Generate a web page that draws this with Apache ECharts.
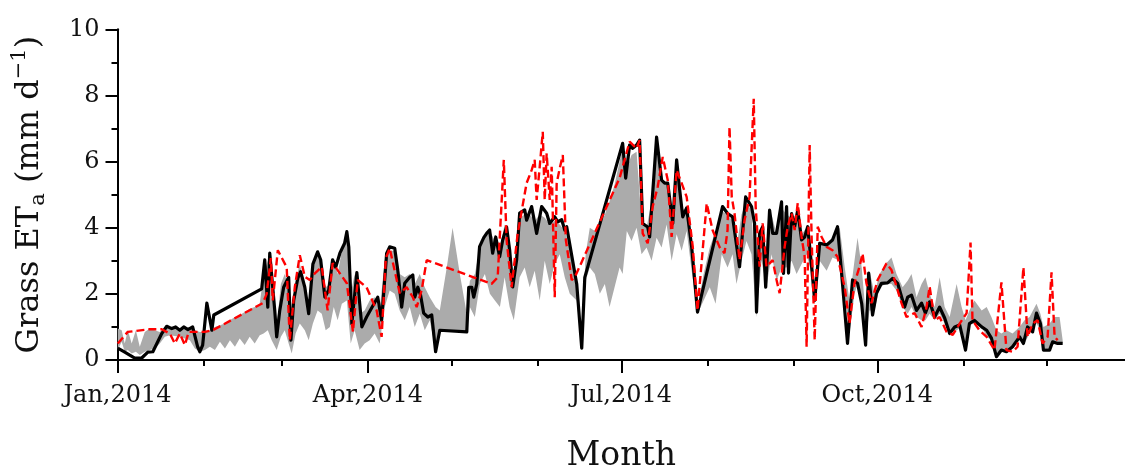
<!DOCTYPE html>
<html><head><meta charset="utf-8">
<script src="https://cdn.jsdelivr.net/npm/echarts@6/dist/echarts.min.js"></script>
<style>html,body{margin:0;padding:0;background:#fff}#c{width:1125px;height:468px}</style>
</head><body><div id="c"></div>
<script>
// x = day of year 2014 (0 = 1 Jan), y = ET (mm/d)
const blackLine = [[0.1,0.36],[2.6,0.24],[6.2,0.06],[8.7,0.06],[10.9,0.24],[12.7,0.25],[15.9,0.8],[17.7,1.02],[19.5,0.95],[20.9,1.0],[22.4,0.9],[23.8,1.0],[25.3,0.92],[27.0,1.0],[28.8,0.4],[29.6,0.25],[30.6,0.45],[32.1,1.72],[33.9,0.9],[34.6,1.36],[51.8,2.15],[52.9,3.03],[54.0,1.6],[54.7,3.23],[56.5,1.5],[57.2,0.7],[58.3,1.5],[59.7,2.2],[61.5,2.5],[62.3,0.6],[63.3,1.8],[64.8,2.48],[65.8,2.67],[67.3,2.2],[68.7,1.4],[70.2,2.9],[71.9,3.27],[73.0,3.03],[74.5,1.9],[75.9,2.12],[77.3,3.03],[78.4,2.8],[79.9,3.23],[81.6,3.53],[82.4,3.88],[83.1,3.42],[84.2,1.1],[86.0,2.64],[87.8,1.0],[89.5,1.3],[91.3,1.57],[93.5,1.9],[94.9,1.2],[96.7,3.22],[97.8,3.42],[99.6,3.38],[100.7,2.72],[102.1,1.6],[103.2,2.32],[105.0,2.5],[106.1,2.57],[106.8,1.9],[107.9,2.2],[108.9,1.96],[110.0,1.42],[111.5,1.3],[112.9,1.36],[114.3,0.25],[115.8,0.9],[125.5,0.85],[126.2,2.2],[127.3,2.2],[128.0,1.9],[129.1,2.3],[130.1,3.43],[131.6,3.7],[132.7,3.84],[133.7,3.93],[134.8,3.23],[135.9,3.72],[137.3,3.12],[138.4,3.63],[139.8,4.02],[140.9,3.33],[142.0,2.21],[143.4,3.02],[144.5,4.44],[146.3,4.54],[147.0,4.23],[148.8,4.64],[150.6,3.83],[152.4,4.64],[154.2,4.44],[155.3,4.13],[157.1,4.33],[158.2,4.18],[159.6,4.24],[160.7,3.93],[161.4,4.03],[165.0,2.3],[166.8,0.36],[167.9,2.5],[181.5,6.55],[182.6,5.5],[184.0,6.5],[185.1,6.4],[186.5,6.5],[187.6,6.65],[188.7,4.13],[190.5,4.02],[191.2,3.72],[193.7,6.74],[195.5,5.44],[196.6,5.35],[197.7,5.35],[199.5,4.13],[200.9,6.05],[202.0,5.14],[203.1,4.33],[204.5,4.6],[206.3,3.42],[208.4,1.45],[217.4,4.64],[219.2,4.43],[221.0,4.33],[223.5,2.82],[225.7,4.93],[227.8,4.64],[228.9,4.13],[229.6,1.45],[230.7,3.83],[231.8,4.03],[232.9,2.2],[234.3,4.53],[235.4,3.83],[236.8,3.83],[238.6,4.78],[239.3,2.62],[240.4,4.64],[241.1,2.63],[242.2,4.43],[243.3,4.03],[244.4,4.53],[245.8,3.63],[246.9,3.72],[248.0,4.03],[249.4,2.82],[250.5,1.8],[252.3,3.53],[254.8,3.48],[256.9,3.63],[258.7,4.03],[260.5,2.3],[262.3,0.5],[264.1,2.42],[265.9,2.32],[267.4,1.7],[268.8,0.45],[269.9,2.63],[271.3,1.36],[272.7,2.02],[274.5,2.32],[276.7,2.33],[278.5,2.47],[280.3,2.32],[282.8,1.6],[283.9,1.9],[285.3,1.96],[287.1,1.5],[288.9,1.72],[290.3,1.42],[291.8,1.76],[293.6,1.3],[295.4,1.6],[297.2,1.27],[299.0,0.8],[300.8,1.0],[302.6,1.06],[304.7,0.3],[306.1,1.1],[307.9,1.2],[310.5,1.0],[312.3,0.9],[314.0,0.66],[315.8,0.1],[317.6,0.3],[319.4,0.25],[321.6,0.4],[324.1,0.7],[325.5,0.5],[327.0,1.0],[328.8,0.85],[330.2,1.42],[331.6,1.1],[332.7,0.3],[334.9,0.3],[336.0,0.55],[337.8,0.5],[339.6,0.5]];

const redLine = [[0.1,0.5],[3.7,0.85],[11.6,0.93],[15.9,0.93],[18.8,0.8],[20.6,0.5],[22.4,0.8],[24.2,0.45],[25.6,0.85],[31.4,0.85],[34.2,0.9],[52.2,1.72],[53.6,2.0],[55.1,3.08],[55.8,1.8],[57.6,3.32],[60.8,2.8],[61.9,0.6],[63.7,2.2],[65.5,3.17],[67.3,2.52],[69.1,2.42],[70.9,2.62],[73.4,2.82],[75.5,1.5],[77.3,2.93],[79.9,2.62],[82.4,2.32],[84.6,0.85],[86.3,2.42],[89.5,2.2],[93.1,1.5],[94.9,0.7],[96.4,3.08],[97.8,3.38],[101.4,2.02],[103.9,2.2],[106.1,1.9],[107.5,1.6],[109.3,2.12],[111.1,3.02],[134.4,2.3],[136.6,2.5],[138.8,6.05],[139.8,3.63],[141.6,2.2],[143.8,3.83],[147.0,5.35],[148.8,5.74],[149.9,6.05],[150.6,4.84],[151.7,5.84],[152.8,6.9],[153.5,4.84],[154.2,6.25],[155.3,4.84],[156.0,5.84],[157.1,1.9],[157.8,5.35],[158.9,5.8],[160.0,6.2],[161.1,3.63],[163.2,2.42],[164.3,2.5],[180.4,5.5],[184.0,6.6],[186.5,6.4],[187.6,6.65],[188.7,3.83],[190.5,3.53],[192.3,4.64],[194.1,5.24],[195.9,6.14],[197.7,5.44],[199.1,3.72],[200.9,5.74],[202.7,5.35],[204.5,4.93],[206.7,3.42],[208.4,1.5],[211.7,4.74],[213.8,3.93],[216.3,3.42],[218.1,3.23],[219.2,3.93],[219.9,7.05],[220.7,4.93],[221.7,4.43],[223.5,3.02],[225.3,4.23],[227.1,4.93],[228.6,7.9],[229.3,4.64],[230.7,2.82],[231.8,4.13],[233.2,2.82],[235.4,3.02],[236.8,2.42],[237.9,2.02],[239.7,3.42],[240.8,4.03],[242.2,4.43],[243.3,3.93],[244.4,4.74],[245.8,3.72],[246.9,3.12],[247.6,0.4],[248.7,6.5],[249.4,3.72],[250.5,0.6],[251.6,4.03],[253.0,3.72],[254.8,3.42],[256.9,3.32],[258.7,3.12],[261.3,2.2],[263.0,1.1],[264.8,2.32],[266.6,2.82],[267.7,3.22],[269.1,2.32],[270.9,1.72],[273.1,2.42],[276.3,2.92],[278.1,2.72],[279.2,2.42],[281.7,1.72],[283.5,1.3],[286.4,1.42],[288.9,1.0],[290.7,1.6],[291.8,2.22],[293.6,1.2],[295.4,1.3],[297.9,0.85],[300.1,0.76],[302.6,1.1],[305.1,1.42],[306.5,3.55],[307.2,1.2],[309.7,0.9],[312.3,0.7],[315.1,0.3],[317.6,2.35],[319.4,0.3],[321.6,0.25],[323.4,0.4],[325.5,2.8],[327.0,0.7],[328.8,1.1],[330.6,1.2],[332.4,0.5],[334.2,0.7],[335.6,2.65],[336.7,0.7],[337.8,0.6]];

// [day, lower, upper] of the grey envelope
const greyBand = [[0.1,0.3,0.95],[1.5,0.55,0.9],[2.6,0.25,0.5],[3.7,0.3,0.9],[5.1,0.2,0.5],[6.6,0.25,0.9],[8.0,0.15,0.4],[9.8,0.25,0.85],[11.6,0.3,0.95],[13.4,0.35,0.9],[15.2,0.5,0.85],[17.0,0.7,1.0],[18.8,0.75,1.0],[22.4,0.7,0.95],[26.0,0.6,1.0],[27.8,0.35,0.9],[29.6,0.25,0.85],[31.4,0.3,0.85],[33.2,0.4,0.9],[35.0,0.3,1.0],[36.8,0.55,1.05],[38.6,0.35,1.1],[40.4,0.6,1.2],[42.2,0.4,1.3],[43.9,0.65,1.35],[45.7,0.45,1.45],[47.5,0.7,1.55],[49.3,0.5,1.6],[51.1,0.75,1.7],[52.5,0.8,2.6],[54.0,0.9,3.0],[55.4,0.6,2.4],[57.2,0.3,1.0],[58.7,0.7,2.3],[60.1,0.9,2.6],[61.5,0.5,2.2],[62.6,0.2,0.9],[64.0,0.8,2.4],[65.5,1.1,2.9],[67.3,0.9,2.3],[68.7,0.6,1.6],[70.2,1.1,2.9],[71.9,1.5,3.2],[73.4,1.4,2.9],[74.8,0.9,2.2],[76.3,1.0,2.3],[77.7,1.6,3.0],[79.1,1.2,2.6],[80.6,1.7,3.3],[82.4,1.8,3.7],[83.8,0.5,2.0],[85.2,0.9,2.6],[87.0,0.3,1.4],[88.8,0.5,1.5],[90.6,0.6,1.8],[92.4,0.8,1.9],[94.2,0.5,1.5],[96.0,1.6,3.0],[97.8,2.1,3.3],[99.6,2.0,3.3],[101.4,1.5,2.6],[103.2,1.2,2.5],[105.0,1.6,2.6],[106.8,1.0,2.3],[108.6,1.4,2.6],[110.4,0.9,2.2],[112.2,1.2,1.9],[114.3,0.3,1.6],[115.8,0.85,1.5],[118.3,0.85,2.8],[120.4,0.85,4.0],[123.0,0.85,2.6],[125.5,0.85,1.4],[126.6,1.6,2.4],[128.4,1.3,2.6],[130.2,2.3,3.4],[132.0,2.6,3.7],[133.8,2.0,3.9],[135.6,1.8,3.6],[137.4,1.6,3.4],[139.1,2.5,4.1],[140.9,1.6,3.2],[142.4,1.2,2.6],[144.5,2.5,4.3],[146.3,2.8,4.4],[148.1,2.2,4.4],[149.9,2.7,4.2],[151.7,1.8,4.4],[153.5,3.0,4.3],[155.3,2.3,4.1],[157.1,2.9,4.2],[158.9,3.2,4.1],[160.7,2.5,3.9],[162.5,2.0,3.4],[165.0,1.8,2.4],[166.8,0.4,0.5],[168.2,2.4,3.2],[169.7,2.8,4.0],[171.5,2.6,3.9],[173.3,2.0,4.1],[175.1,2.3,4.4],[176.8,1.6,4.8],[178.6,2.2,5.3],[180.4,2.8,6.0],[181.5,2.6,6.4],[183.0,3.9,5.8],[184.7,3.6,6.2],[186.5,4.0,6.3],[188.3,3.2,4.2],[190.1,3.4,4.0],[191.9,3.0,4.8],[193.7,3.7,6.3],[195.5,3.4,5.4],[197.3,4.1,5.3],[199.1,3.0,4.3],[200.9,3.8,5.6],[202.7,3.3,4.6],[204.5,3.9,4.5],[206.3,2.7,3.4],[208.4,1.4,1.6],[210.6,1.8,2.6],[212.8,2.2,3.4],[214.9,1.7,3.9],[217.1,3.2,4.5],[219.2,2.8,4.4],[221.0,3.2,4.2],[222.4,2.3,3.4],[224.2,3.0,4.4],[226.0,3.6,4.8],[227.8,3.2,4.5],[229.6,1.3,1.6],[231.4,3.0,3.9],[233.2,2.2,2.6],[235.0,3.2,4.4],[236.8,2.4,3.8],[238.6,2.8,4.6],[240.4,2.8,4.4],[242.2,3.0,4.3],[244.0,2.6,4.4],[245.8,2.9,3.8],[247.6,3.2,4.0],[249.4,2.6,3.2],[250.8,1.9,2.2],[252.3,3.0,3.5],[254.8,2.7,3.5],[256.9,3.1,3.7],[259.5,3.0,4.0],[261.3,2.0,2.8],[263.0,0.8,1.8],[264.8,2.0,3.0],[265.9,2.3,3.7],[267.4,1.6,2.8],[268.8,0.6,1.4],[270.2,1.5,2.7],[272.0,1.5,2.0],[273.8,2.2,2.6],[276.0,2.3,2.9],[278.1,2.3,3.1],[279.9,2.1,2.6],[282.1,1.6,2.2],[283.9,1.4,2.4],[285.3,1.6,2.6],[287.1,1.3,1.9],[288.9,1.2,2.3],[290.3,1.2,2.5],[291.8,1.4,2.0],[293.6,1.2,1.6],[295.4,1.4,2.5],[297.2,1.1,1.6],[299.0,0.8,1.3],[301.5,0.9,2.3],[303.3,1.0,1.6],[304.7,0.35,1.2],[306.1,1.1,1.5],[307.9,1.1,1.8],[310.5,1.0,1.5],[312.3,0.7,1.6],[314.0,0.6,1.3],[315.8,0.15,0.9],[317.6,0.3,0.8],[319.4,0.25,0.9],[321.6,0.35,0.8],[324.1,0.6,1.0],[325.9,0.5,1.2],[327.7,0.8,1.3],[330.2,1.1,1.7],[331.6,0.9,1.4],[332.7,0.35,1.0],[334.9,0.35,1.1],[336.7,0.5,1.3],[338.5,0.5,1.3],[339.6,0.5,0.6]];

const monthTickDays = [0,31,59,90,120,151,181,212,243,273,304,334];
const labelTickDays = [0,90,181,273];
const labelTexts = ['Jan,2014','Apr,2014','Jul,2014','Oct,2014'];
const yTicks = [0,2,4,6,8,10];

const FONT = 'DejaVu Serif';
const chart = echarts.init(document.getElementById('c'), null, {renderer:'canvas'});
const axisCommon = {
  type:'value', min:0, max:362, position:'bottom', splitLine:{show:false}
};
chart.setOption({
  animation:false,
  backgroundColor:'#fff',
  grid:{left:117.5, right:0, top:29.3, bottom:108, containLabel:false, outerBoundsMode:'none'},
  xAxis:[
    Object.assign({}, axisCommon, {
      axisLine:{show:true, onZero:false, lineStyle:{color:'#000', width:2}},
      axisTick:{show:true, customValues:monthTickDays, length:6, lineStyle:{color:'#000', width:2}},
      axisLabel:{show:false}
    }),
    Object.assign({}, axisCommon, {
      axisLine:{show:false, onZero:false},
      axisTick:{show:true, customValues:labelTickDays, length:13, lineStyle:{color:'#000', width:2}},
      axisLabel:{show:true, customValues:labelTickDays, margin:24, fontFamily:FONT, fontSize:24, color:'#111',
        formatter:v=>{const i=labelTickDays.indexOf(Math.round(v)); return i>=0?labelTexts[i]:'';}},
      name:'Month', nameLocation:'middle', nameGap:80,
      nameTextStyle:{fontFamily:FONT, fontSize:33, color:'#111'}
    })
  ],
  yAxis:{
    type:'value', min:0, max:10, interval:2,
    axisLine:{show:true, onZero:false, lineStyle:{color:'#000', width:2}},
    axisTick:{show:true, length:12, lineStyle:{color:'#000', width:2}},
    minorTick:{show:true, splitNumber:2, length:6, lineStyle:{color:'#000', width:2}},
    splitLine:{show:false}, minorSplitLine:{show:false},
    axisLabel:{margin:18, fontFamily:FONT, fontSize:24, color:'#111',
      formatter:v=>yTicks.indexOf(v)>=0?String(v):''},
    name:'{m|Grass ET}{sub|a}{m| (mm d}{sup|−1}{m|)}',
    nameLocation:'middle', nameGap:68, nameRotate:90,
    nameTextStyle:{fontFamily:FONT, fontSize:32, color:'#111',
      rich:{
        m:{fontFamily:FONT, fontSize:32, lineHeight:40, color:'#111'},
        sub:{fontFamily:FONT, fontSize:21, lineHeight:22, verticalAlign:'bottom', color:'#111'},
        sup:{fontFamily:FONT, fontSize:21, lineHeight:24, verticalAlign:'top', color:'#111'}
      }}
  },
  series:[
    {name:'band', type:'custom', data:greyBand, encode:{x:0, y:[1,2]}, silent:true, z:1,
     renderItem:(params, api)=>{
       if (params.dataIndex !== 0) return null;
       const upper = greyBand.map(b=>api.coord([b[0], b[2]]));
       const lower = greyBand.slice().reverse().map(b=>api.coord([b[0], b[1]]));
       return {type:'polygon', shape:{points:upper.concat(lower)}, style:{fill:'#ababab'}};
     }},
    {name:'black', type:'line', data:blackLine, symbol:'none',
     lineStyle:{color:'#000', width:3.2, join:'round'}, z:3},
    {name:'red', type:'line', data:redLine, symbol:'none',
     lineStyle:{color:'#ff0000', width:2.4, type:[8,4]}, z:4}
  ]
});
</script></body></html>
